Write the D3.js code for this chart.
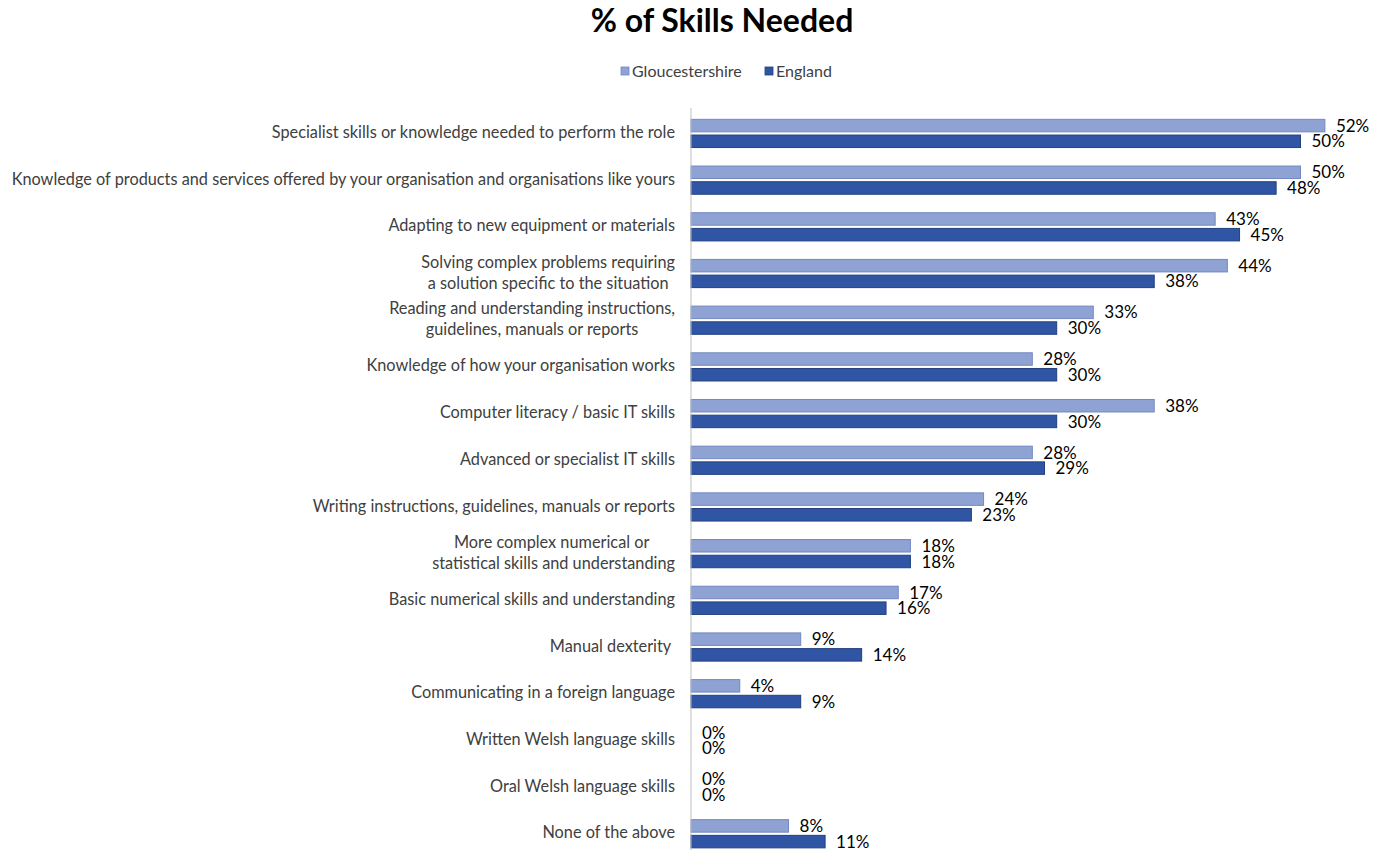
<!DOCTYPE html>
<html>
<head>
<meta charset="utf-8">
<script src="https://cdn.jsdelivr.net/npm/d3@7"></script>
<style>
  html, body { margin: 0; padding: 0; background: #ffffff; }
  svg { display: block; }
  text { font-family: Lato, "Open Sans", sans-serif; }
</style>
</head>
<body>
<svg id="chart" width="1373" height="850"></svg>
<script>
// Skill categories (line breaks mark wrapped labels)
const categories = [
  "Specialist skills or knowledge needed to perform the role",
  "Knowledge of products and services offered by your organisation and organisations like yours",
  "Adapting to new equipment or materials",
  "Solving complex problems requiring\na solution specific to the situation",
  "Reading and understanding instructions,\nguidelines, manuals or reports",
  "Knowledge of how your organisation works",
  "Computer literacy / basic IT skills",
  "Advanced or specialist IT skills",
  "Writing instructions, guidelines, manuals or reports",
  "More complex numerical or \nstatistical skills and understanding",
  "Basic numerical skills and understanding",
  "Manual dexterity ",
  "Communicating in a foreign language",
  "Written Welsh language skills",
  "Oral Welsh language skills",
  "None of the above"
];

// Share of establishments needing each skill (%)
const gloucestershire = [52, 50, 43, 44, 33, 28, 38, 28, 24, 18, 17, 9, 4, 0, 0, 8];
const england         = [50, 48, 45, 38, 30, 30, 30, 29, 23, 18, 16, 14, 9, 0, 0, 11];

const seriesNames = ["Gloucestershire", "England"];
const seriesFill   = ["#8FA2D4", "#2F55A4"];
const seriesStroke = ["#7388C2", "#22407F"];

const svg = d3.select("#chart");

const axisX = 691;
const x = d3.scaleLinear().domain([0, 60]).range([axisX, axisX + 60 * 12.19]);
const y = d3.scaleBand().domain(d3.range(categories.length)).range([110, 857]);

// Title
svg.append("text")
  .attr("x", 722).attr("y", 32)
  .attr("text-anchor", "middle")
  .attr("font-size", 32).attr("font-weight", "bold")
  .attr("fill", "#000")
  .text("% of Skills Needed");

// Legend
const legend = svg.append("g");
const legendItems = [{x: 621, name: seriesNames[0], i: 0}, {x: 765, name: seriesNames[1], i: 1}];
legendItems.forEach(d => {
  legend.append("rect")
    .attr("x", d.x).attr("y", 67).attr("width", 8).attr("height", 8)
    .attr("fill", seriesFill[d.i]).attr("stroke", seriesStroke[d.i]).attr("stroke-width", 0.8);
  legend.append("text")
    .attr("x", d.x + 11).attr("y", 77)
    .attr("font-size", 16).attr("fill", "#404040")
    .text(d.name);
});

// Bars
const rows = categories.map((c, i) => ({i, c, vals: [gloucestershire[i], england[i]]}));
const barH = 12.5;
const offsets = [-14, 1.7];

const g = svg.append("g");
rows.forEach(r => {
  const cy = y(r.i) + y.bandwidth() / 2;
  r.vals.forEach((v, s) => {
    const y0 = cy + offsets[s];
    if (v > 0) {
      g.append("rect")
        .attr("x", x(0)).attr("y", y0)
        .attr("width", x(v) - x(0)).attr("height", barH)
        .attr("fill", seriesFill[s]).attr("stroke", seriesStroke[s]).attr("stroke-width", 1);
    }
    g.append("text")
      .attr("x", x(v) + 11)
      .attr("y", y0 + barH / 2)
      .attr("dy", "0.36em")
      .attr("font-size", 17).attr("fill", "#000")
      .text(v + "%");
  });
});

// Category axis line
svg.append("line")
  .attr("x1", axisX).attr("x2", axisX)
  .attr("y1", 108).attr("y2", 850)
  .attr("stroke", "#BFBFBF").attr("stroke-width", 1);

// Category labels: wrapped lines centred within their block, block right-aligned
const labelRight = 675;
const lineH = 21;
rows.forEach(r => {
  const cy = y(r.i) + y.bandwidth() / 2 - 1;
  const lines = r.c.split("\n");
  const grp = svg.append("g");
  const texts = lines.map((ln, k) => grp.append("text")
    .attr("font-size", 16.3).attr("fill", "#404040")
    .style("white-space", "pre")
    .attr("y", cy + (k - (lines.length - 1) / 2) * lineH)
    .attr("dy", "0.35em")
    .attr("text-anchor", "middle")
    .text(ln));
  const widths = texts.map(t => t.node().getComputedTextLength());
  const blockW = d3.max(widths);
  texts.forEach(t => t.attr("x", labelRight - blockW / 2));
});
</script>
</body>
</html>
